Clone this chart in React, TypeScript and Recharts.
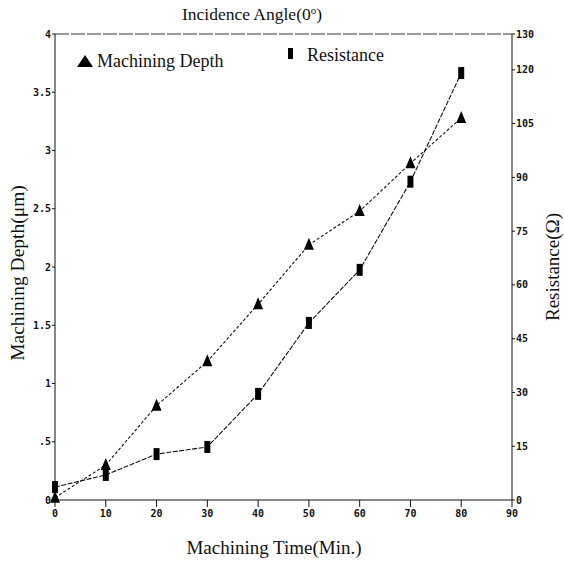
import React from 'react';
import { LineChart, Line, XAxis, YAxis, ReferenceLine } from 'recharts';

const times = [0, 10, 20, 30, 40, 50, 60, 70, 80];
const depthValues = [0.02, 0.3, 0.81, 1.19, 1.68, 2.19, 2.48, 2.89, 3.28];
const resistanceValues = [3.6, 7.0, 12.8, 14.8, 29.6, 49.4, 64.2, 88.8, 119.1];
const timeTicks = [0, 10, 20, 30, 40, 50, 60, 70, 80, 90];
const depthTicks = [0, 0.5, 1, 1.5, 2, 2.5, 3, 3.5, 4];
const resistanceTicks = [0, 15, 30, 45, 60, 75, 90, 105, 120, 130];

const data = times.map((t, i) => ({ time: t, depth: depthValues[i], resistance: resistanceValues[i] }));

const tickStyle = { fontFamily: 'DejaVu Sans Mono', fontWeight: 'bold', fontSize: 10, fill: '#111' };
const serif = 'Liberation Serif';

const fmtDepth = (v: number) => {
  if (v === 0) return '0';
  if (v === 0.5) return '.5';
  return String(v);
};

const TriangleDot = (props: any) => {
  const { cx, cy, index } = props;
  if (cx == null || cy == null) return <g key={index} />;
  return <polygon key={index} points={`${cx},${cy - 7} ${cx - 5},${cy + 5} ${cx + 5},${cy + 5}`} fill="#000" />;
};

const SquareDot = (props: any) => {
  const { cx, cy, index } = props;
  if (cx == null || cy == null) return <g key={index} />;
  return <rect key={index} x={cx - 3} y={cy - 6} width={6} height={12} fill="#000" />;
};

export default function App() {
  return (
    <div style={{ position: 'absolute', left: 0, top: 0, width: 564, height: 560, background: '#fff' }}>
      <LineChart
        width={564}
        height={560}
        data={data}
        margin={{ top: 34, right: 0, bottom: 30, left: 10 }}
      >
        <XAxis
          dataKey="time"
          type="number"
          domain={[0, 90]}
          ticks={timeTicks}
          interval={0}
          height={30}
          tickSize={7}
          tickMargin={3}
          stroke="#111"
          tick={tickStyle}
        />
        <YAxis
          yAxisId="left"
          type="number"
          domain={[0, 4]}
          ticks={depthTicks}
          interval={0}
          width={45}
          tickSize={3}
          tickMargin={1}
          tickFormatter={fmtDepth}
          stroke="#111"
          tick={tickStyle}
        />
        <YAxis
          yAxisId="right"
          orientation="right"
          type="number"
          domain={[0, 130]}
          ticks={resistanceTicks}
          interval={0}
          width={52}
          tickSize={3}
          tickMargin={1}
          stroke="#111"
          tick={tickStyle}
        />
        <ReferenceLine yAxisId="left" y={4} stroke="#333" strokeDasharray="14 2" />
        <Line
          yAxisId="left"
          dataKey="depth"
          stroke="#111"
          strokeWidth={1.1}
          strokeDasharray="3 2"
          dot={TriangleDot}
          activeDot={false}
          isAnimationActive={false}
        />
        <Line
          yAxisId="right"
          dataKey="resistance"
          stroke="#111"
          strokeWidth={1.1}
          strokeDasharray="5 1.5"
          dot={SquareDot}
          activeDot={false}
          isAnimationActive={false}
        />
      </LineChart>
      <svg
        width={564}
        height={560}
        style={{ position: 'absolute', left: 0, top: 0, pointerEvents: 'none', overflow: 'visible' }}
      >
        <text x={252} y={20} textAnchor="middle" fontFamily={serif} fontSize={17.5} fill="#111">
          Incidence Angle(0<tspan dy={-6} fontSize={11}>o</tspan><tspan dy={6}>)</tspan>
        </text>
        <polygon points="77,67 85,55 93,67" fill="#000" />
        <text x={97} y={67} fontFamily={serif} fontSize={18} fill="#111">Machining Depth</text>
        <rect x={288} y={48} width={5} height={11} fill="#000" />
        <text x={307} y={61} fontFamily={serif} fontSize={18} fill="#111">Resistance</text>
        <text x={274} y={554} textAnchor="middle" fontFamily={serif} fontSize={19} fill="#111">Machining Time(Min.)</text>
        <text transform="translate(24,273) rotate(-90)" textAnchor="middle" fontFamily={serif} fontSize={19.5} fill="#111">Machining Depth(μm)</text>
        <text transform="translate(559,267) rotate(-90)" textAnchor="middle" fontFamily={serif} fontSize={19} fill="#111">Resistance(Ω)</text>
      </svg>
    </div>
  );
}
